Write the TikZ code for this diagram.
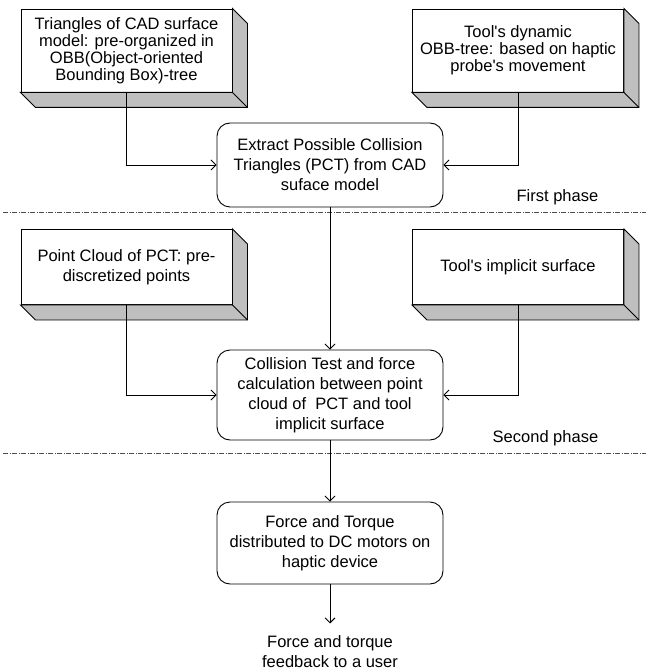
\documentclass[tikz,border=0pt]{standalone}
\usepackage{fontspec}
\setmainfont{Liberation Sans}[Ligatures=TeXOff]
\usetikzlibrary{arrows.meta,calc}

\begin{document}
\begin{tikzpicture}[x=1pt, y=-1pt, line width=0.9pt,
		slab/.style = {draw, fill=white, inner sep=0pt, align=center, minimum width=211pt, font=\fontsize{16.5}{17}\selectfont},
		stage/.style = {draw, rounded corners=13pt, inner sep=0pt, align=center, minimum width=226pt, font=\fontsize{16.5}{20}\selectfont},
		flow/.style = {-{Straight Barb[length=5pt,width=10pt]}},
		phase/.style = {gray!60!black, line width=0.7pt, dash pattern=on 5pt off 1.5pt on 1pt off 1.5pt},]
		
		\useasboundingbox (0,0) rectangle (646,671);
		
		% input blocks
		\node[slab, minimum height=83pt] (cad) at (126.5,50.5) {Triangles of CAD surface\\model: pre-organized in\\OBB(Object-oriented\\Bounding Box)-tree};
		\node[slab, minimum height=83pt] (obb) at (518,50.5) {Tool's dynamic\\OBB-tree: based on haptic\\probe's movement};
		\node[slab, minimum height=75pt, font=\fontsize{16.5}{20}\selectfont] (cloud) at (126.5,267) {Point Cloud of PCT: pre-\\discretized points};
		\node[slab, minimum height=75pt] (impl) at (518,267) {Tool's implicit surface};
		
		% depth of the blocks
		\foreach \n in {cad,obb,cloud,impl} {
			\draw[fill=gray!50] (\n.north east) -- ++(15,15) |- ($(\n.south west)+(15,15)$) -- (\n.south west) -- (\n.south east) -- cycle;
			\draw (\n.south east) -- ++(15,15);
		}
		
		% processing stages
		\node[stage, minimum height=84pt] (pct) at (330,165) {Extract Possible Collision\\Triangles (PCT) from CAD\\suface model};
		\node[stage, minimum height=90pt] (test) at (330,395) {Collision Test and force\\calculation between point\\cloud of\ \ PCT and tool\\implicit surface};
		\node[stage, minimum height=82pt] (force) at (330,543) {Force and Torque\\distributed to DC motors on\\haptic device};
		\node[align=center, inner sep=12pt, font=\fontsize{16.5}{20}\selectfont] (user) at (330,652) {Force and torque\\feedback to a user};
		
		% phases
		\draw[phase] (3,212) coordinate (p1l) -- (646,212) coordinate (p1r);
		\draw[phase] (3,453) coordinate (p2l) -- (646,453) coordinate (p2r);
		\node[anchor=east, font=\fontsize{16.5}{20}\selectfont] (first) at (602,197) {First phase};
		\node[anchor=east, font=\fontsize{16.5}{20}\selectfont] (second) at (602,438) {Second phase};
		
		\draw[flow] (cad.south) |- (pct.west);
		\draw[flow] (obb.south) |- (pct.east);
		\draw[flow] (pct) -- (test);
		\draw[flow] (cloud.south) |- (test.west);
		\draw[flow] (impl.south) |- (test.east);
		\draw[flow] (test) -- (force);
		\draw[flow] (force) -- (user);
		
	\end{tikzpicture}
\end{document}
